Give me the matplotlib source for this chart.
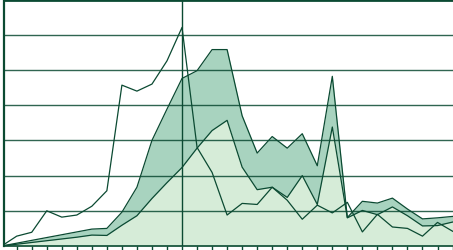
import numpy as np
import matplotlib
matplotlib.use('Agg')
import matplotlib.pyplot as plt

# 31 categories, no labels shown
cats = np.arange(31)

# lower stacked area (light green)
lower_vals = [0, 0.05, 0.10, 0.15, 0.20, 0.25, 0.31, 0.30, 0.59, 0.86,
              1.35, 1.80, 2.23, 2.78, 3.28, 3.57, 2.24, 1.60, 1.67, 1.38,
              2.00, 1.18, 3.38, 0.80, 1.01, 0.89, 1.11, 0.86, 0.57, 0.58, 0.68]
# band stacked on top of it (darker green)
band_vals = [0, 0.03, 0.06, 0.09, 0.12, 0.15, 0.17, 0.20, 0.37, 0.81,
             1.65, 2.09, 2.53, 2.20, 2.30, 2.01, 1.46, 1.04, 1.44, 1.40,
             1.19, 1.10, 1.44, 0.01, 0.26, 0.33, 0.25, 0.19, 0.20, 0.22, 0.16]
# thin line series
line_vals = [0, 0.28, 0.39, 1.00, 0.82, 0.88, 1.13, 1.57, 4.57, 4.40,
             4.60, 5.26, 6.21, 2.80, 2.09, 0.88, 1.21, 1.18, 1.67, 1.30,
             0.76, 1.16, 0.94, 1.24, 0.40, 0.90, 0.54, 0.50, 0.28, 0.67, 0.42]
marker_cat = 12

dark = '#0b4a32'
band_col = '#a8d3bf'
light_col = '#d6ecd8'

lower = np.array(lower_vals)
upper = lower + np.array(band_vals)

fig = plt.figure(figsize=(4.53, 2.51), dpi=100)
ax = fig.add_axes([4 / 453, 4 / 251, 449 / 453, 246.4 / 251])

ax.fill_between(cats, 0, lower, color=light_col, lw=0, zorder=1)
ax.fill_between(cats, lower, upper, color=band_col, lw=0, zorder=1)

for y in range(1, 7):
    ax.axhline(y, color=dark, lw=1.0, alpha=0.85, zorder=2)

ax.plot(cats, upper, color=dark, lw=0.9, zorder=3)
ax.plot(cats, lower, color=dark, lw=0.9, zorder=3)
ax.plot(cats, line_vals, color=dark, lw=0.9, zorder=3)
ax.axvline(marker_cat, color=dark, lw=1.0, zorder=4)

ax.set_xlim(0.155, 30.03)
ax.set_ylim(0, 7)
ax.set_xticks(cats[1:])
ax.set_xticklabels([])
ax.set_yticks([])
ax.tick_params(axis='x', direction='out', length=4, width=1, color=dark)

ax.spines['right'].set_visible(False)
ax.spines['top'].set_color(dark)
ax.spines['top'].set_linewidth(2)
ax.spines['left'].set_color(dark)
ax.spines['left'].set_linewidth(1.6)
ax.spines['bottom'].set_color(dark)
ax.spines['bottom'].set_linewidth(1.2)

fig.savefig('out.png', dpi=100)
